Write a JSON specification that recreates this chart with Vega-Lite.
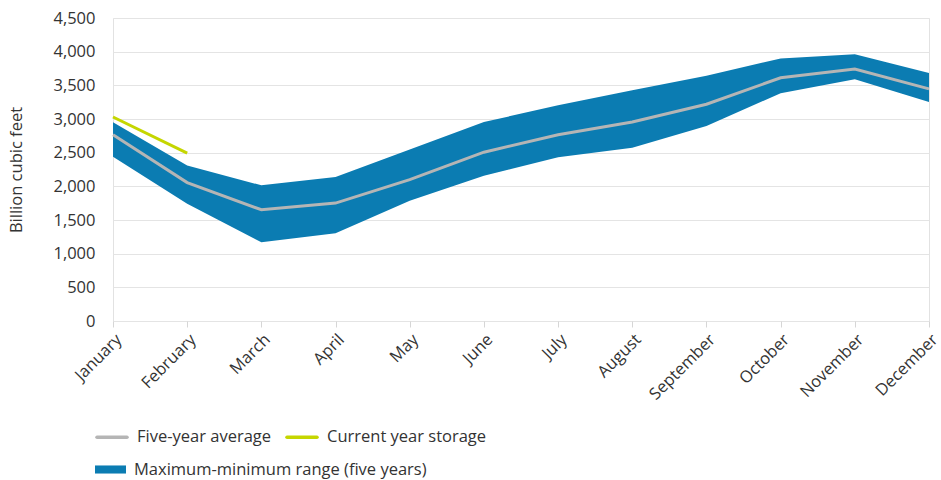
{
  "$schema": "https://vega.github.io/schema/vega-lite/v6.json",
  "width": 816,
  "height": 303,
  "autosize": {"type": "none"},
  "padding": {"left": 113, "top": 18, "right": 12, "bottom": 159},
  "background": "white",
  "config": {
    "font": "Open Sans",
    "view": {"stroke": "#e2e2e2"},
    "axis": {"labelColor": "#333333", "titleColor": "#333333", "labelFontSize": 16.5, "titleFontSize": 16.5, "titleFontWeight": "normal", "gridColor": "#e4e4e4"},
    "legend": {"labelColor": "#333333", "labelFontSize": 16.5, "labelLimit": 500}
  },
  "data": {
    "values": [
      {"month": "January", "avg": 2766, "min": 2438, "max": 2950, "current": 3030},
      {"month": "February", "avg": 2055, "min": 1741, "max": 2308, "current": 2492},
      {"month": "March", "avg": 1652, "min": 1169, "max": 2015, "current": null},
      {"month": "April", "avg": 1751, "min": 1303, "max": 2139, "current": null},
      {"month": "May", "avg": 2100, "min": 1786, "max": 2547, "current": null},
      {"month": "June", "avg": 2507, "min": 2159, "max": 2955, "current": null},
      {"month": "July", "avg": 2766, "min": 2433, "max": 3204, "current": null},
      {"month": "August", "avg": 2955, "min": 2572, "max": 3428, "current": null},
      {"month": "September", "avg": 3219, "min": 2895, "max": 3642, "current": null},
      {"month": "October", "avg": 3612, "min": 3383, "max": 3900, "current": null},
      {"month": "November", "avg": 3741, "min": 3592, "max": 3960, "current": null},
      {"month": "December", "avg": 3448, "min": 3254, "max": 3682, "current": null}
    ]
  },
  "encoding": {
    "x": {
      "field": "month", "type": "ordinal", "sort": null,
      "scale": {"type": "point", "padding": 0},
      "axis": {"title": null, "labelAngle": -45, "labelPadding": 4, "ticks": true, "tickSize": 6, "tickColor": "#d6d6d6", "domain": false, "grid": false}
    },
    "y": {
      "type": "quantitative", "scale": {"domain": [0, 4500]},
      "axis": {"title": "Billion cubic feet", "values": [0, 500, 1000, 1500, 2000, 2500, 3000, 3500, 4000, 4500], "format": ",.0f", "labelOverlap": false, "domain": false, "ticks": false, "labelPadding": 18, "titlePadding": 28}
    }
  },
  "layer": [
    {
      "mark": {"type": "area", "opacity": 1},
      "encoding": {
        "y": {"field": "min", "type": "quantitative"},
        "y2": {"field": "max"},
        "fill": {"datum": "Maximum-minimum range (five years)", "type": "nominal",
          "scale": {"domain": ["Maximum-minimum range (five years)"], "range": ["#0b7cb2"]},
          "legend": {
            "title": null, "orient": "none", "legendX": -18, "legendY": 436, "direction": "horizontal",
            "symbolType": "M-1,-0.26H1V0.26H-1Z", "symbolSize": 961, "labelOffset": 8, "symbolStrokeWidth": 0, "symbolOpacity": 1
          }
        }
      }
    },
    {
      "mark": {"type": "line", "strokeWidth": 3},
      "encoding": {
        "y": {"field": "avg", "type": "quantitative"},
        "stroke": {"datum": "Five-year average", "type": "nominal",
          "scale": {"domain": ["Five-year average", "Current year storage"], "range": ["#b5b5b5", "#c5d600"]},
          "legend": {
            "title": null, "orient": "none", "legendX": -18, "legendY": 402, "direction": "horizontal",
            "columnPadding": 8, "symbolType": "stroke", "symbolSize": 900, "labelOffset": 8, "symbolStrokeWidth": 3.5,
            "encode": {"symbols": {"update": {"strokeCap": {"value": "round"}}}}
          }
        }
      }
    },
    {
      "transform": [{"filter": "datum.current != null"}],
      "mark": {"type": "line", "strokeWidth": 3},
      "encoding": {
        "y": {"field": "current", "type": "quantitative"},
        "stroke": {"datum": "Current year storage", "type": "nominal"}
      }
    }
  ]
}
